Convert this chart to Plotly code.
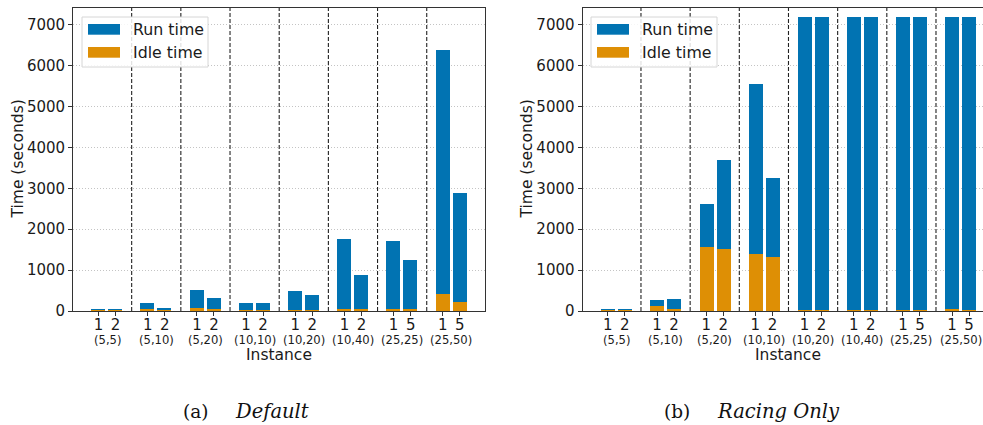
import plotly.graph_objects as go

# ---------------- data ----------------
groups = ["(5,5)", "(5,10)", "(5,20)", "(10,10)", "(10,20)", "(10,40)", "(25,25)", "(25,50)"]
tick_pairs = [["1", "2"], ["1", "2"], ["1", "2"], ["1", "2"], ["1", "2"], ["1", "2"], ["1", "5"], ["1", "5"]]

# (a) Default: total run time and idle time (seconds), two instances per group
default_run = [55, 55, 204, 82, 523, 327, 204, 204, 498, 400, 1756, 890, 1707, 1258, 6389, 2884]
default_idle = [12, 12, 33, 16, 65, 33, 14, 14, 14, 14, 57, 57, 33, 33, 408, 229]

# (b) Racing Only
racing_run = [33, 33, 278, 302, 2614, 3693, 5556, 3252, 7200, 7200, 7200, 7200, 7200, 7200, 7200, 7200]
racing_idle = [14, 14, 114, 57, 1560, 1511, 1389, 1315, 10, 10, 10, 10, 10, 10, 33, 10]

caption_tags = ["(a)", "(b)"]
caption_names = ["Default", "Racing Only"]
legend_names = ["Run time", "Idle time"]
y_ticks = [0, 1000, 2000, 3000, 4000, 5000, 6000, 7000]

# ---------------- style ----------------
BLUE = "#0173B2"
ORANGE = "#DE8F05"
SPINE = "#333333"
FONT = "DejaVu Sans"
SERIF = "DejaVu Serif"
W, H = 983, 425
MT, MB = 8, 114
PLOT_H = H - MT - MB
BAR_OFF = 0.173
BAR_W = 0.285

def px_x(px):
    return px / W

def px_y(py):
    return (H - MB - py) / PLOT_H

# bar positions from group index
bar_x = []
bar_ticks = []
for gi, pair in enumerate(tick_pairs):
    bar_x += [gi - BAR_OFF, gi + BAR_OFF]
    bar_ticks += pair

fig = go.Figure()

panels = [
    dict(run=default_run, idle=default_idle, xa="x", ya="y",
         dom=[73.3 / W, 485 / W], rng=[-0.687, 7.685], ytitle_px=17, leg_px=82, mirror_y=True,
         cap_tag_end=210, cap_name_start=233),
    dict(run=racing_run, idle=racing_idle, xa="x2", ya="y2",
         dom=[582.7 / W, 1.0], rng=[-0.685, 7.456], ytitle_px=526, leg_px=591, mirror_y=False,
         cap_tag_end=692, cap_name_start=715),
]

shapes = []
annotations = []

for pi, p in enumerate(panels):
    fig.add_trace(go.Bar(x=bar_x, y=p["run"], width=BAR_W, marker=dict(color=BLUE, line=dict(width=0)),
                         name=legend_names[0], xaxis=p["xa"], yaxis=p["ya"], showlegend=False))
    fig.add_trace(go.Bar(x=bar_x, y=p["idle"], width=BAR_W, marker=dict(color=ORANGE, line=dict(width=0)),
                         name=legend_names[1], xaxis=p["xa"], yaxis=p["ya"], showlegend=False))

    xkey = "xaxis" if pi == 0 else "xaxis2"
    ykey = "yaxis" if pi == 0 else "yaxis2"
    fig.update_layout(**{
        xkey: dict(domain=p["dom"], range=p["rng"], anchor=p["ya"], tickmode="array",
                   tickvals=bar_x, ticktext=bar_ticks, ticks="outside", ticklen=4, tickwidth=1,
                   tickcolor=SPINE, showline=True, linecolor=SPINE, linewidth=1.3, mirror=True,
                   showgrid=False, zeroline=False, automargin=False, ticklabelstandoff=-4,
                   tickfont=dict(family=FONT, size=15, color="#1a1a1a")),
        ykey: dict(domain=[0, 1], range=[0, 7410], anchor=p["xa"], tickmode="array",
                   tickvals=y_ticks, ticks="outside", ticklen=4, tickwidth=1, tickcolor=SPINE,
                   showline=True, linecolor=SPINE, linewidth=1.3, mirror=p["mirror_y"],
                   showgrid=True, gridcolor="#c4c4c4", gridwidth=1, griddash="1px,2px",
                   zeroline=False, automargin=False,
                   tickfont=dict(family=FONT, size=15, color="#1a1a1a")),
    })

    xref = p["xa"]
    yref_dom = p["ya"] + " domain"
    # dashed separators between groups
    for gi in range(len(groups) - 1):
        shapes.append(dict(type="line", xref=xref, yref=yref_dom, x0=gi + 0.5, x1=gi + 0.5, y0=0, y1=1,
                           line=dict(color="#222222", width=1.1, dash="4px,2px"), layer="above"))
    # group labels
    for gi, g in enumerate(groups):
        annotations.append(dict(text=g, xref=xref, yref="paper", x=gi, y=px_y(339.5), showarrow=False,
                                xanchor="center", yanchor="middle",
                                font=dict(family=FONT, size=11.6, color="#1a1a1a")))
    # axis titles
    annotations.append(dict(text="Instance", xref=xref, yref="paper", x=3.5, y=px_y(355), showarrow=False,
                            xanchor="center", yanchor="middle", font=dict(family=FONT, size=15.5, color="#1a1a1a")))
    annotations.append(dict(text="Time (seconds)", xref="paper", yref="paper", x=px_x(p["ytitle_px"]),
                            y=px_y(159.5), showarrow=False, textangle=-90, xanchor="center", yanchor="middle",
                            font=dict(family=FONT, size=15.5, color="#1a1a1a")))
    # caption
    annotations.append(dict(text=caption_tags[pi], xref="paper", yref="paper", x=px_x(p["cap_tag_end"]),
                            y=px_y(411), showarrow=False, xanchor="right", yanchor="middle",
                            font=dict(family=SERIF, size=18.5, color="#111111")))
    annotations.append(dict(text="<i>" + caption_names[pi] + "</i>", xref="paper", yref="paper",
                            x=px_x(p["cap_name_start"]), y=px_y(411), showarrow=False,
                            xanchor="left", yanchor="middle",
                            font=dict(family=SERIF, size=19.5, color="#111111")))

    # legend (drawn box, swatches and labels)
    lx = p["leg_px"]
    shapes.append(dict(type="rect", xref="paper", yref="paper", x0=px_x(lx), x1=px_x(lx + 126),
                       y0=px_y(67), y1=px_y(17), fillcolor="rgba(255,255,255,0.85)",
                       line=dict(color="#d6d6d6", width=1), layer="above"))
    for li, (col, name) in enumerate(zip([BLUE, ORANGE], legend_names)):
        top = 24 + li * 23
        shapes.append(dict(type="rect", xref="paper", yref="paper", x0=px_x(lx + 6), x1=px_x(lx + 38),
                           y0=px_y(top + 10.7), y1=px_y(top), fillcolor=col, line=dict(width=0), layer="above"))
        annotations.append(dict(text=name, xref="paper", yref="paper", x=px_x(lx + 49), y=px_y(top + 5.5),
                                showarrow=False, xanchor="left", yanchor="middle",
                                font=dict(family=FONT, size=15.8, color="#1a1a1a")))

fig.update_layout(
    width=W, height=H, barmode="overlay", bargap=0,
    margin=dict(l=0, r=0, t=MT, b=MB, pad=0),
    paper_bgcolor="white", plot_bgcolor="white",
    shapes=shapes, annotations=annotations, showlegend=False,
)

fig.write_html("out.html", config={"displayModeBar": False},
               post_script="document.body.style.margin='0px';document.body.style.overflow='hidden';")
